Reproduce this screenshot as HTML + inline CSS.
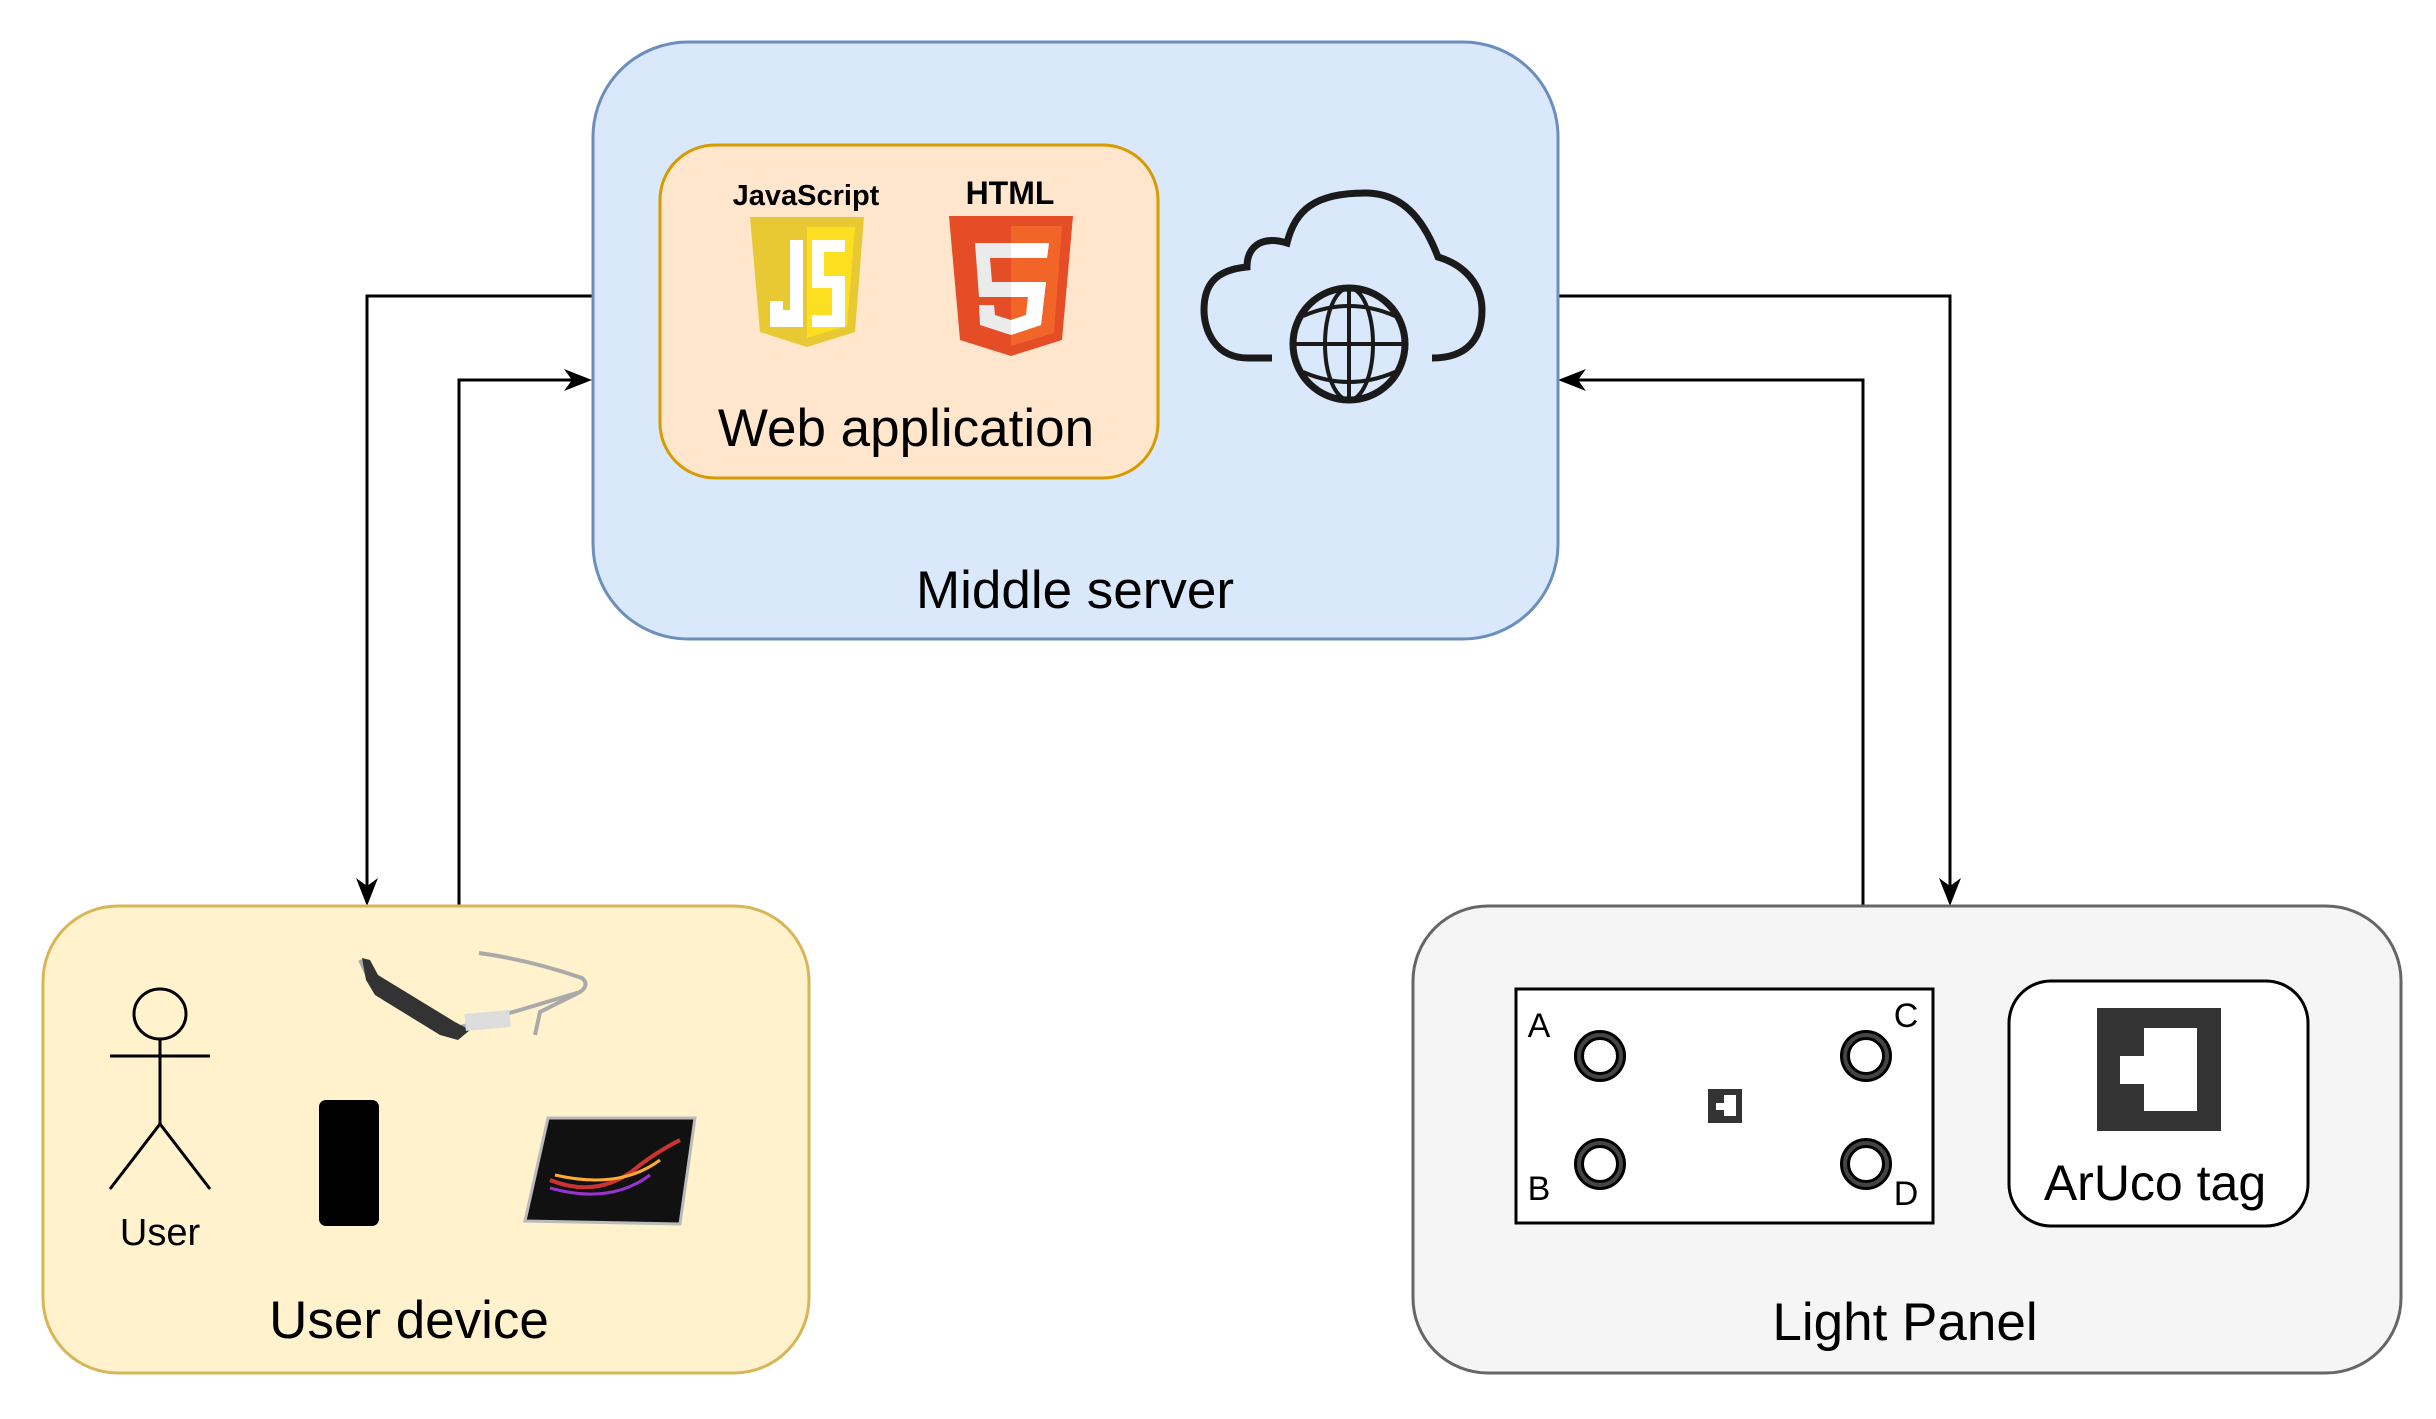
<!DOCTYPE html>
<html><head><meta charset="utf-8"><style>
html,body{margin:0;padding:0;background:#fff;}
svg{display:block;}
text{font-family:"Liberation Sans",sans-serif;}
</style></head><body>
<svg width="2436" height="1419" viewBox="0 0 2436 1419" xmlns="http://www.w3.org/2000/svg">
<defs>
<marker id="ah" markerWidth="12" markerHeight="12" refX="10" refY="6" orient="auto" markerUnits="userSpaceOnUse">
<path d="M0,0 L12,6 L0,12 L4,6 Z" fill="#000" transform="scale(1.8) translate(-5,-3)"/>
</marker>
</defs>
<!-- connectors -->
<g fill="none" stroke="#000" stroke-width="3">
<polyline points="592,296 367,296 367,890"/>
<polyline points="459,906 459,380 578,380"/>
<polyline points="1558,296 1950,296 1950,890"/>
<polyline points="1863,906 1863,380 1572,380"/>
</g>
<g fill="#000">
<path d="M367,906 L356,878 L367,886 L378,878 Z"/>
<path d="M592,380 L564,369 L572,380 L564,391 Z"/>
<path d="M1950,906 L1939,878 L1950,886 L1961,878 Z"/>
<path d="M1558,380 L1586,369 L1578,380 L1586,391 Z"/>
</g>

<!-- Middle server -->
<rect x="593" y="42" width="965" height="597" rx="95" fill="#dae8fc" stroke="#6c8ebf" stroke-width="3"/>
<rect x="660" y="145" width="498" height="333" rx="55" fill="#ffe6cc" stroke="#d79b00" stroke-width="3"/>
<text x="806" y="205" font-size="29" font-weight="bold" text-anchor="middle">JavaScript</text>
<text x="1010" y="204" font-size="32" font-weight="900" text-anchor="middle">HTML</text>
<!-- JS shield -->
<path d="M750,217 L864,217 L855,332 L807,347 L760,332 Z" fill="#e8c833"/>
<path d="M807,227 L855,227 L847,326 L807,338 Z" fill="#fddf22"/>
<path d="M790,240 L803,240 L803,327 L770,327 L770,301 L783,301 L783,310 L790,310 Z" fill="#fff"/>
<path d="M812,240 L845,240 L845,252 L824,252 L824,276 L845,276 L845,327 L812,327 L812,315 L832,315 L832,288 L812,288 Z" fill="#fff"/>
<!-- HTML shield -->
<path d="M949,216 L1073,216 L1062,340 L1011,356 L960,340 Z" fill="#e44d26"/>
<path d="M1011,226 L1062,226 L1054,333 L1011,346 Z" fill="#f16529"/>
<path d="M975,243 L1049,243 L1047,258 L990,258 L992,282 L1046,282 L1041,325 L1011,335 L980,325 L979,305 L994,305 L995,315 L1011,320 L1026,315 L1028,297 L979,297 Z" fill="#ebebeb"/>
<path d="M1011,243 L1049,243 L1047,258 L1011,258 Z M1011,282 L1046,282 L1041,325 L1011,335 L1011,320 L1026,315 L1028,297 L1011,297 Z" fill="#fff"/>
<text x="906" y="446" font-size="53" text-anchor="middle">Web application</text>
<!-- cloud -->
<g fill="none" stroke="#1a1a1a" stroke-width="7">
<path d="M1272,358 L1248,358 C1215,358 1204,330 1204,310 C1204,285 1215,270 1247,267 C1247,248 1260,235 1287,243 C1295,210 1315,193 1365,193 C1400,193 1422,215 1438,257 C1465,265 1482,285 1482,310 C1482,338 1468,358 1432,358"/>
<ellipse cx="1349" cy="344" rx="56" ry="56"/>
</g>
<g fill="none" stroke="#1a1a1a" stroke-width="4">
<line x1="1293" y1="344" x2="1405" y2="344"/>
<path d="M1303,316 Q1349,296 1395,316"/>
<path d="M1303,372 Q1349,392 1395,372"/>
<ellipse cx="1349" cy="344" rx="24" ry="56"/>
<line x1="1349" y1="288" x2="1349" y2="400"/>
</g>
<text x="1075" y="608" font-size="53" text-anchor="middle">Middle server</text>

<!-- User device -->
<rect x="43" y="906" width="766" height="467" rx="75" fill="#fff2cc" stroke="#d6b656" stroke-width="3"/>
<g fill="none" stroke="#000" stroke-width="3">
<ellipse cx="160" cy="1014" rx="26" ry="25"/>
<line x1="160" y1="1039" x2="160" y2="1124"/>
<line x1="110" y1="1056" x2="210" y2="1056"/>
<polyline points="110,1189 160,1124 210,1189"/>
</g>
<text x="160" y="1245" font-size="38" text-anchor="middle">User</text>
<!-- glasses -->
<path d="M479,953 Q530,960 582,978 Q590,985 580,992 L540,1012 L535,1035 M360,960 L372,985 L450,1030 L520,1010 L580,992" fill="none" stroke="#aaa" stroke-width="4"/>
<path d="M362,958 L370,960 L378,975 L455,1022 L470,1030 L458,1040 L440,1035 L375,995 L366,980 Z" fill="#333"/>
<rect x="465" y="1012" width="45" height="17" fill="#ddd" transform="rotate(-5 487 1020)"/>
<!-- phone -->
<rect x="319" y="1100" width="60" height="126" rx="7" fill="#000"/>
<!-- tablet -->
<path d="M548,1118 L695,1118 L680,1224 L525,1221 Z" fill="#111" stroke="#bbb" stroke-width="3"/>
<path d="M550,1180 Q600,1200 640,1165 Q660,1150 680,1140" fill="none" stroke="#c33" stroke-width="4"/>
<path d="M550,1188 Q610,1205 650,1175" fill="none" stroke="#93c" stroke-width="3"/>
<path d="M555,1175 Q620,1190 660,1160" fill="none" stroke="#fa3" stroke-width="3"/>
<text x="409" y="1338" font-size="53" text-anchor="middle">User device</text>

<!-- Light panel -->
<rect x="1413" y="906" width="988" height="467" rx="75" fill="#f5f5f5" stroke="#666" stroke-width="3"/>
<rect x="1516" y="989" width="417" height="234" fill="#fff" stroke="#000" stroke-width="3"/>
<g fill="none" stroke="#000" stroke-width="10">
<ellipse cx="1600" cy="1056" rx="21" ry="21"/>
<ellipse cx="1866" cy="1056" rx="21" ry="21"/>
<ellipse cx="1600" cy="1164" rx="21" ry="21"/>
<ellipse cx="1866" cy="1164" rx="21" ry="21"/>
</g>
<g fill="none" stroke="#444" stroke-width="4">
<ellipse cx="1600" cy="1056" rx="21" ry="21"/>
<ellipse cx="1866" cy="1056" rx="21" ry="21"/>
<ellipse cx="1600" cy="1164" rx="21" ry="21"/>
<ellipse cx="1866" cy="1164" rx="21" ry="21"/>
</g>
<rect x="1708" y="1089" width="34" height="34" fill="#333"/>
<path d="M1724,1095 L1736,1095 L1736,1116 L1724,1116 L1724,1110 L1716,1110 L1716,1103 L1724,1103 Z" fill="#fff"/>
<g font-size="34">
<text x="1539" y="1037" text-anchor="middle">A</text>
<text x="1906" y="1027" text-anchor="middle">C</text>
<text x="1539" y="1200" text-anchor="middle">B</text>
<text x="1906" y="1205" text-anchor="middle">D</text>
</g>
<rect x="2009" y="981" width="299" height="245" rx="42" fill="#fff" stroke="#000" stroke-width="3"/>
<rect x="2097" y="1008" width="124" height="123" fill="#333"/>
<path d="M2144,1028 L2197,1028 L2197,1111 L2144,1111 L2144,1084 L2120,1084 L2120,1056 L2144,1056 Z" fill="#fff"/>
<text x="2155" y="1200" font-size="50" text-anchor="middle">ArUco tag</text>
<text x="1905" y="1340" font-size="53" text-anchor="middle">Light Panel</text>
</svg>
</body></html>
